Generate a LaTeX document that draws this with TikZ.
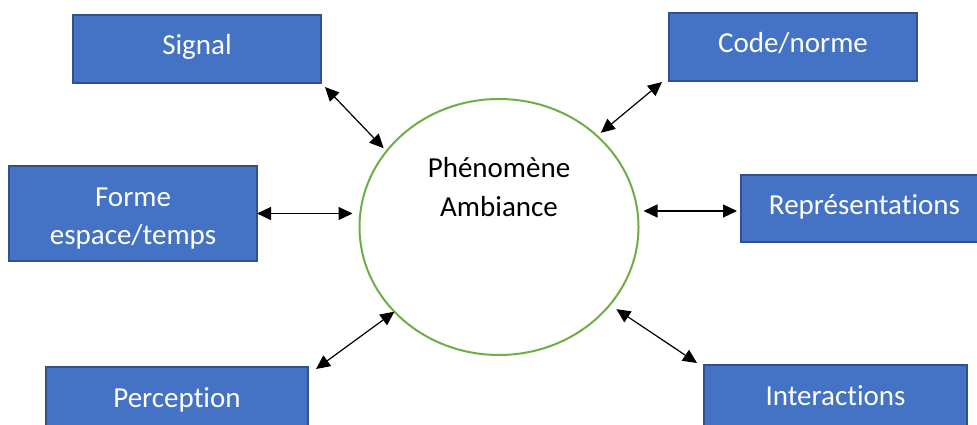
\documentclass[tikz,border=0pt]{standalone}
\usepackage{fontspec}
\setmainfont{Carlito}[RawFeature={-liga;-clig;-dlig;-calt;-rlig}]
\usetikzlibrary{arrows.meta,shapes.geometric,calc}

\definecolor{boxfill}{HTML}{4472C4}
\definecolor{boxline}{HTML}{2F528F}
\definecolor{ringgreen}{HTML}{70AD47}

% keep "t" and "i" as separate letters
\newcommand{\ti}{t\kern0pt i}

\tikzset{
  box/.style={rectangle, draw=boxline, line width=1.5pt, fill=boxfill,
    inner sep=0pt, outer sep=0pt, text=white,
    font=\fontsize{29}{38}\selectfont},
  oneline/.style={text height=20pt, text depth=8pt},
  boxtext/.style={inner sep=0pt, text=white, align=center,
    font=\fontsize{29}{38}\selectfont},
  ring/.style={ellipse, draw=ringgreen, line width=2pt, fill=white,
    inner sep=0pt, outer sep=0pt, minimum width=279pt, minimum height=256pt},
  ringtext/.style={inner sep=0pt, text=black, align=center,
    font=\fontsize{29}{39}\selectfont},
  link/.style={line width=1.2pt, draw=black,
    {Triangle[length=14pt,width=13pt]}-{Triangle[length=14pt,width=13pt]}}
}

\begin{document}
\begin{tikzpicture}[x=1pt,y=-1pt]
  \useasboundingbox (0,0) rectangle (977,425);
  \clip (0,0) rectangle (977,425);
  \fill[white] (0,0) rectangle (977,425);

  % central phenomenon
  \node[ring] (ph) at (499,227) {};
  \node[ringtext] (phtext) at (499,187) {Phénomène\\Ambiance};

  % surrounding aspects
  \node[box, oneline, minimum width=248pt, minimum height=68pt] (sig) at (197,49) {Signal};
  \node[box, oneline, minimum width=248pt, minimum height=68pt] (code) at (793,47) {Code/norme};
  \node[box, minimum width=248pt, minimum height=95pt] (forme) at (133,213.5) {};
  \node[boxtext] (formetext) at ([yshift=-5pt]forme.center) {Forme\\espace/temps};
  \node[box, oneline, minimum width=247pt, minimum height=67pt] (rep) at (864.5,208.5) {Représenta\ti ons};
  \node[box, oneline, minimum width=262pt, minimum height=68pt] (perc) at (177,401) {Percep\ti on};
  \node[box, oneline, minimum width=263pt, minimum height=68pt] (inter) at (835.5,399) {Interac\ti ons};

  % two-way links
  \draw[link] ([shift={(4,4)}]sig.south east) -- ([shift={(-3,-3)}]ph.146);
  \draw[link] ([shift={(-7,1)}]code.south west) -- ([shift={(4,-3)}]ph.43);
  \draw[link] (forme.east) -- ([xshift=-7pt]ph.west |- forme.east);
  \draw[link] ($(ph.east |- rep.west)+(5,2.5)$) -- ([shift={(-4,2.5)}]rep.west);
  \draw[link] ([shift={(8,2)}]perc.north east) -- (ph.219);
  \draw[link] ([shift={(-7,-2)}]inter.north west) -- ([shift={(6.5,4.5)}]ph.325);
\end{tikzpicture}
\end{document}
